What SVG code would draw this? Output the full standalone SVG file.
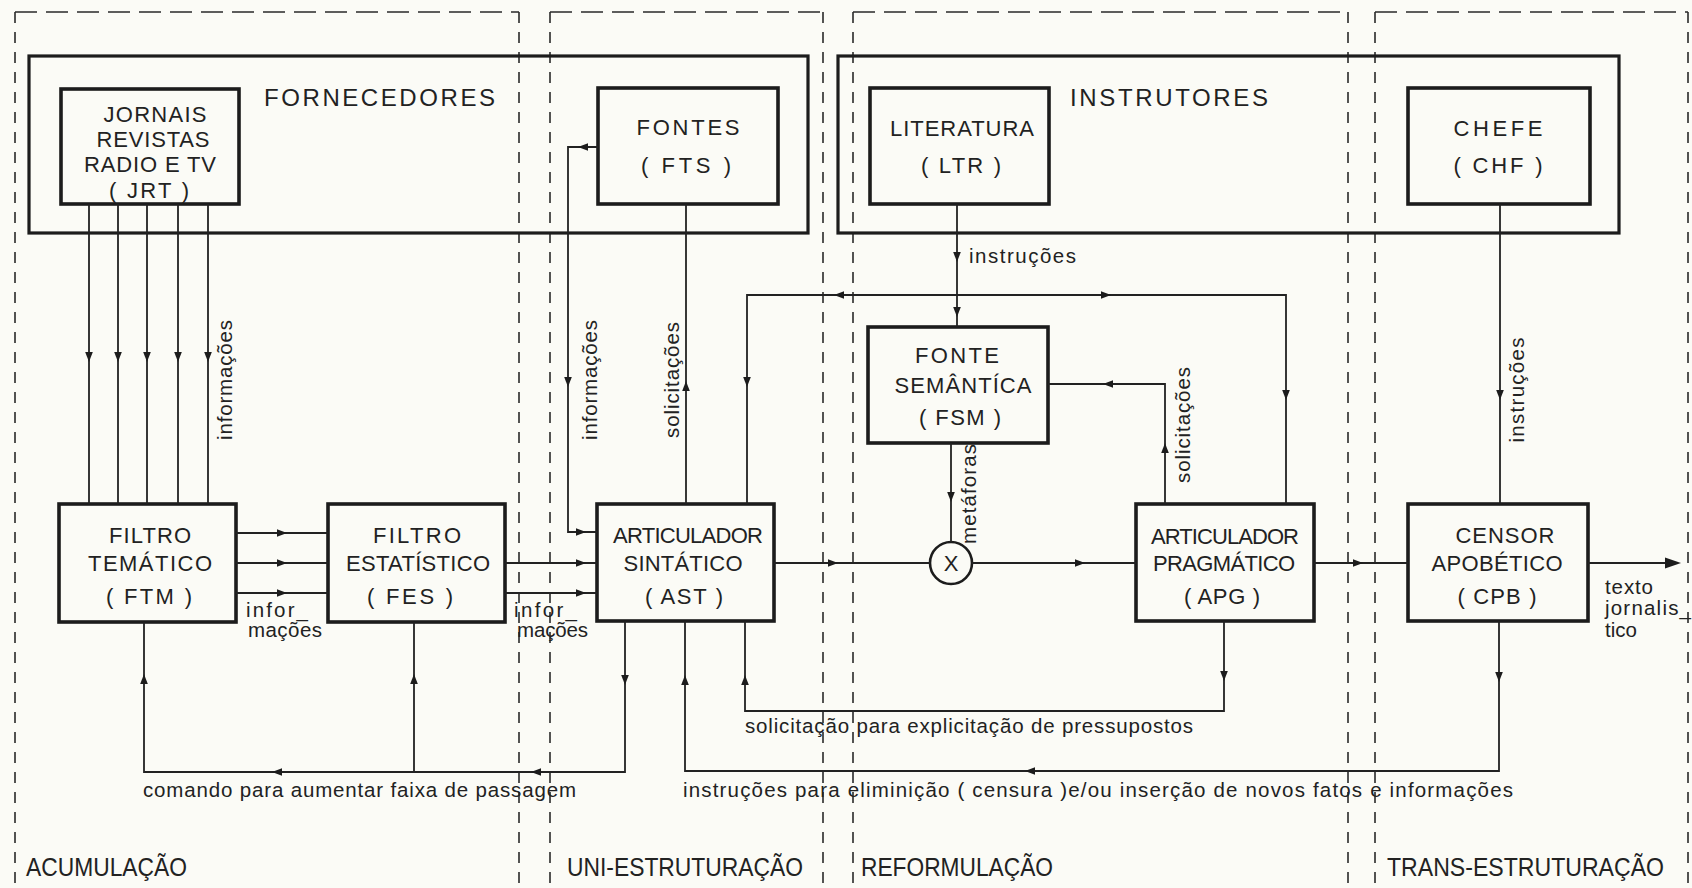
<svg xmlns="http://www.w3.org/2000/svg" xmlns:xlink="http://www.w3.org/1999/xlink" width="1692" height="888" viewBox="0 0 1692 888">
<style>
.bg{fill:#fbfbf6}
.box{fill:none;stroke:#1c1c1c;stroke-width:3.6}
.grp{fill:none;stroke:#1c1c1c;stroke-width:3.2}
.ln{fill:none;stroke:#222;stroke-width:1.8}
.dh{fill:none;stroke:#2a2a2a;stroke-width:1.6;stroke-dasharray:22 9}
.dv{fill:none;stroke:#2a2a2a;stroke-width:1.6;stroke-dasharray:11 9}
.ah{fill:#1c1c1c}
text{font-family:"Liberation Sans",Arial,sans-serif;fill:#222}
.n{font-size:22px;text-anchor:middle}
.h{font-size:24px}
.l{font-size:20.5px}
.v{font-size:20.5px;text-anchor:middle}
.r{font-size:25px}
</style>
<defs>
<path id="a" class="ah" d="M-5,-3.8 L5,0 L-5,3.8 Z"/>
</defs>
<rect class="bg" x="0" y="0" width="1692" height="888"/>

<g id="regions">
<g id="reg-acumulacao">
<path class="dh" d="M15,12 H519"/>
<path class="dv" d="M15,12 V888 M519,12 V888"/>
<text class="r" x="26" y="876" textLength="161" lengthAdjust="spacingAndGlyphs">ACUMULAÇÃO</text>
</g>
<g id="reg-uni">
<path class="dh" d="M550,12 H823"/>
<path class="dv" d="M550,12 V888 M823,12 V888"/>
<text class="r" x="567" y="876" textLength="236" lengthAdjust="spacingAndGlyphs">UNI-ESTRUTURAÇÃO</text>
</g>
<g id="reg-reform">
<path class="dh" d="M853,12 H1348"/>
<path class="dv" d="M853,12 V888 M1348,12 V888"/>
<text class="r" x="861" y="876" textLength="192" lengthAdjust="spacingAndGlyphs">REFORMULAÇÃO</text>
</g>
<g id="reg-trans">
<path class="dh" d="M1375,12 H1688"/>
<path class="dv" d="M1375,12 V888 M1688,12 V888"/>
<text class="r" x="1387" y="876" textLength="277" lengthAdjust="spacingAndGlyphs">TRANS-ESTRUTURAÇÃO</text>
</g>
</g>

<g id="fornecedores">
<rect class="grp" x="29" y="56" width="779" height="177"/>
<text class="h" x="264" y="106" textLength="231">FORNECEDORES</text>
</g>
<g id="instrutores">
<rect class="grp" x="838" y="56" width="781" height="177"/>
<text class="h" x="1070" y="106" textLength="198">INSTRUTORES</text>
</g>

<g id="JRT">
<rect class="box" x="61" y="89" width="178" height="115"/>
<text class="n" x="155" y="122" textLength="103">JORNAIS</text>
<text class="n" x="153" y="147" textLength="113">REVISTAS</text>
<text class="n" x="150" y="172" textLength="132">RADIO E TV</text>
<text class="n" x="149" y="198" textLength="80">( JRT )</text>
</g>
<g id="FTS">
<rect class="box" x="598" y="88" width="180" height="116"/>
<text class="n" x="688" y="135" textLength="103">FONTES</text>
<text class="n" x="686" y="173" textLength="90">( FTS )</text>
</g>
<g id="LTR">
<rect class="box" x="870" y="88" width="179" height="116"/>
<text class="n" x="962" y="136" textLength="144">LITERATURA</text>
<text class="n" x="961" y="173" textLength="80">( LTR )</text>
</g>
<g id="CHF">
<rect class="box" x="1408" y="88" width="182" height="116"/>
<text class="n" x="1498" y="136" textLength="89">CHEFE</text>
<text class="n" x="1498" y="173" textLength="89">( CHF )</text>
</g>
<g id="FSM">
<rect class="box" x="868" y="327" width="180" height="116"/>
<text class="n" x="957" y="363" textLength="84">FONTE</text>
<text class="n" x="963" y="393" textLength="137">SEMÂNTÍCA</text>
<text class="n" x="960" y="425" textLength="82">( FSM )</text>
</g>
<g id="FTM">
<rect class="box" x="59" y="504" width="177" height="118"/>
<text class="n" x="150" y="543" textLength="82">FILTRO</text>
<text class="n" x="150" y="571" textLength="124">TEMÁTICO</text>
<text class="n" x="149" y="604" textLength="86">( FTM )</text>
</g>
<g id="FES">
<rect class="box" x="328" y="504" width="177" height="118"/>
<text class="n" x="417" y="543" textLength="88">FILTRO</text>
<text class="n" x="418" y="571" textLength="144">ESTATÍSTICO</text>
<text class="n" x="410" y="604" textLength="86">( FES )</text>
</g>
<g id="AST">
<rect class="box" x="597" y="504" width="177" height="117"/>
<text class="n" x="688" y="543" textLength="150">ARTICULADOR</text>
<text class="n" x="683" y="571" textLength="119">SINTÁTICO</text>
<text class="n" x="684" y="604" textLength="78">( AST )</text>
</g>
<g id="X">
<circle class="box" cx="951" cy="563" r="21" style="stroke-width:2.6"/>
<text class="n" x="951" y="571">X</text>
</g>
<g id="APG">
<rect class="box" x="1136" y="504" width="178" height="117"/>
<text class="n" x="1225" y="544" textLength="148">ARTICULADOR</text>
<text class="n" x="1224" y="571" textLength="142">PRAGMÁTICO</text>
<text class="n" x="1222" y="604" textLength="76">( APG )</text>
</g>
<g id="CPB">
<rect class="box" x="1408" y="504" width="180" height="117"/>
<text class="n" x="1505" y="543" textLength="99">CENSOR</text>
<text class="n" x="1497" y="571" textLength="131">APOBÉTICO</text>
<text class="n" x="1497" y="604" textLength="79">( CPB )</text>
</g>

<g id="connectors">
<path class="ln" d="M89,204 V504 M118,204 V504 M147,204 V504 M178,204 V504 M208,204 V504"/>
<use xlink:href="#a" href="#a" transform="translate(89,357) rotate(90)"/>
<use xlink:href="#a" href="#a" transform="translate(118,357) rotate(90)"/>
<use xlink:href="#a" href="#a" transform="translate(147,357) rotate(90)"/>
<use xlink:href="#a" href="#a" transform="translate(178,357) rotate(90)"/>
<use xlink:href="#a" href="#a" transform="translate(208,357) rotate(90)"/>
<text class="v" transform="translate(232,380) rotate(-90)" textLength="120">informações</text>

<path class="ln" d="M236,533 H328 M236,563 H328 M236,593 H328"/>
<use xlink:href="#a" href="#a" transform="translate(282,533)"/>
<use xlink:href="#a" href="#a" transform="translate(282,563)"/>
<use xlink:href="#a" href="#a" transform="translate(282,593)"/>
<text class="l" x="246" y="617" textLength="62">infor_</text>
<text class="l" x="248" y="637" textLength="74">mações</text>

<path class="ln" d="M505,563 H597 M505,593 H597"/>
<use xlink:href="#a" href="#a" transform="translate(581,563)"/>
<use xlink:href="#a" href="#a" transform="translate(581,593)"/>
<text class="l" x="514" y="617" textLength="63">infor_</text>
<text class="l" x="517" y="637" textLength="71">mações</text>

<path class="ln" d="M598,147 H568 V532 H597"/>
<use xlink:href="#a" href="#a" transform="translate(583,147) rotate(180)"/>
<use xlink:href="#a" href="#a" transform="translate(568,382) rotate(90)"/>
<use xlink:href="#a" href="#a" transform="translate(581,532)"/>
<text class="v" transform="translate(597,380) rotate(-90)" textLength="120">informações</text>

<path class="ln" d="M686,504 V204"/>
<use xlink:href="#a" href="#a" transform="translate(686,386) rotate(-90)"/>
<text class="v" transform="translate(679,380) rotate(-90)" textLength="116">solicitações</text>

<path class="ln" d="M747,504 V295 H1286 V504"/>
<use xlink:href="#a" href="#a" transform="translate(747,382) rotate(90)"/>
<use xlink:href="#a" href="#a" transform="translate(839,295) rotate(180)"/>
<use xlink:href="#a" href="#a" transform="translate(1106,295)"/>
<use xlink:href="#a" href="#a" transform="translate(1286,395) rotate(90)"/>

<path class="ln" d="M957,204 V327"/>
<use xlink:href="#a" href="#a" transform="translate(957,257) rotate(90)"/>
<use xlink:href="#a" href="#a" transform="translate(957,312) rotate(90)"/>
<text class="l" x="969" y="263" textLength="107">instruções</text>

<path class="ln" d="M951,443 V542"/>
<use xlink:href="#a" href="#a" transform="translate(951,497) rotate(90)"/>
<text class="v" transform="translate(976,494) rotate(-90)" textLength="100">metáforas</text>

<path class="ln" d="M774,563 H930 M972,563 H1136"/>
<use xlink:href="#a" href="#a" transform="translate(833,563)"/>
<use xlink:href="#a" href="#a" transform="translate(1080,563)"/>

<path class="ln" d="M1165,504 V384 H1048"/>
<use xlink:href="#a" href="#a" transform="translate(1165,448) rotate(-90)"/>
<use xlink:href="#a" href="#a" transform="translate(1108,384) rotate(180)"/>
<text class="v" transform="translate(1190,425) rotate(-90)" textLength="116">solicitações</text>

<path class="ln" d="M1314,563 H1408"/>
<use xlink:href="#a" href="#a" transform="translate(1358,563)"/>

<path class="ln" d="M1500,204 V504"/>
<use xlink:href="#a" href="#a" transform="translate(1500,395) rotate(90)"/>
<text class="v" transform="translate(1524,390) rotate(-90)" textLength="105">instruções</text>

<path class="ln" d="M1588,563 H1668"/>
<path class="ah" d="M1665,557.5 L1681,563 L1665,568.5 Z"/>
<text class="l" x="1605" y="594" textLength="48">texto</text>
<text class="l" x="1605" y="615" textLength="86">jornalis_</text>
<text class="l" x="1605" y="637">tico</text>

<path class="ln" d="M625,621 V772 H144 V622 M414,772 V622"/>
<use xlink:href="#a" href="#a" transform="translate(625,680) rotate(90)"/>
<use xlink:href="#a" href="#a" transform="translate(536,772) rotate(180)"/>
<use xlink:href="#a" href="#a" transform="translate(277,772) rotate(180)"/>
<use xlink:href="#a" href="#a" transform="translate(144,679) rotate(-90)"/>
<use xlink:href="#a" href="#a" transform="translate(414,679) rotate(-90)"/>
<text class="l" x="143" y="797" textLength="433">comando para aumentar  faixa de passagem</text>

<path class="ln" d="M1224,621 V711 H745 V621"/>
<use xlink:href="#a" href="#a" transform="translate(1224,676) rotate(90)"/>
<use xlink:href="#a" href="#a" transform="translate(745,680) rotate(-90)"/>
<text class="l" x="745" y="733" textLength="448">solicitação para explicitação de pressupostos</text>

<path class="ln" d="M1499,621 V771 H685 V621"/>
<use xlink:href="#a" href="#a" transform="translate(1499,677) rotate(90)"/>
<use xlink:href="#a" href="#a" transform="translate(1030,771) rotate(180)"/>
<use xlink:href="#a" href="#a" transform="translate(685,680) rotate(-90)"/>
<text class="l" x="683" y="797" textLength="830">instruções para eliminição ( censura )e/ou inserção de novos fatos e informações</text>
</g>
</svg>
